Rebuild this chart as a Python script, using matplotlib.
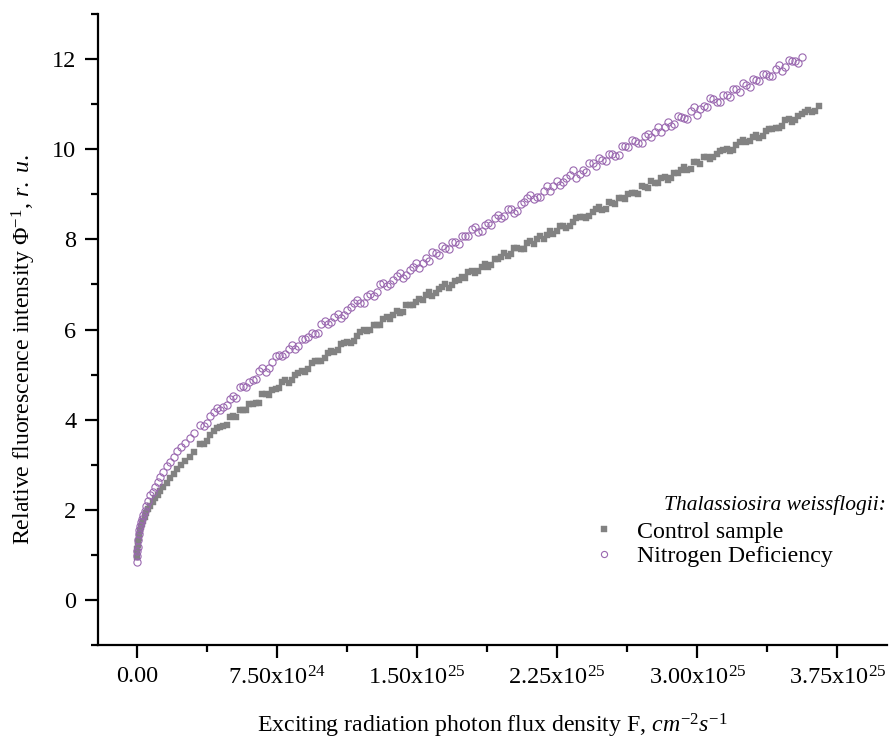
import matplotlib
matplotlib.use("Agg")
import matplotlib.pyplot as plt
from matplotlib.ticker import MultipleLocator

plt.rcParams['font.family'] = ['Liberation Serif', 'DejaVu Serif']
plt.rcParams['mathtext.fontset'] = 'custom'
plt.rcParams['mathtext.rm'] = 'Liberation Serif'
plt.rcParams['mathtext.it'] = 'Liberation Serif:italic'

# photon flux density, in units of 1e24 cm^-2 s^-1
flux_nd = [0.00, 0.01, 0.02, 0.04, 0.06, 0.09, 0.12, 0.16, 0.21, 0.27, 0.34, 0.42, 0.51, 0.61,
           0.72, 0.84, 0.97, 1.11, 1.26, 1.42, 1.59, 1.77, 1.96, 2.16, 2.37, 2.59, 2.82, 3.06,
           3.40, 3.75, 4.10, 4.45, 4.80, 5.15, 5.50, 5.85, 6.20, 6.55, 6.90, 7.25, 7.60, 7.95,
           8.30, 8.65, 9.00, 9.35, 9.70, 10.05, 10.40, 10.75, 11.10, 11.45, 11.80, 12.15, 12.50,
           12.85, 13.20, 13.55, 13.90, 14.25, 14.60, 14.95, 15.30, 15.65, 16.00, 16.35, 16.70,
           17.05, 17.40, 17.75, 18.10, 18.45, 18.80, 19.15, 19.50, 19.85, 20.20, 20.55, 20.90,
           21.25, 21.60, 21.95, 22.30, 22.65, 23.00, 23.35, 23.70, 24.05, 24.40, 24.75, 25.10,
           25.45, 25.80, 26.15, 26.50, 26.85, 27.20, 27.55, 27.90, 28.25, 28.60, 28.95, 29.30,
           29.65, 30.00, 30.35, 30.70, 31.05, 31.40, 31.75, 32.10, 32.45, 32.80, 33.15, 33.50,
           33.85, 34.20, 34.55, 34.90, 35.25, 35.60]
fluo_nd = [0.83, 0.98, 1.08, 1.18, 1.32, 1.47, 1.55, 1.63, 1.72, 1.80, 1.88, 1.98, 2.08, 2.20,
           2.33, 2.40, 2.50, 2.62, 2.73, 2.84, 2.98, 3.07, 3.17, 3.31, 3.39, 3.48, 3.60, 3.70,
           3.89, 3.93, 4.18, 4.22, 4.32, 4.53, 4.72, 4.72, 4.88, 5.07, 5.05, 5.28, 5.43, 5.45,
           5.66, 5.63, 5.80, 5.93, 5.92, 6.19, 6.16, 6.34, 6.33, 6.49, 6.65, 6.59, 6.79,
           6.84, 7.03, 7.00, 7.18, 7.14, 7.33, 7.48, 7.47, 7.52, 7.70, 7.85, 7.78,
           7.94, 8.07, 8.07, 8.28, 8.19, 8.37, 8.48, 8.47, 8.67, 8.59, 8.78, 8.91,
           8.90, 8.95, 9.18, 9.18, 9.20, 9.37, 9.53, 9.46, 9.49, 9.69, 9.80, 9.75,
           9.89, 9.87, 10.08, 10.21, 10.15, 10.29, 10.27, 10.49, 10.49, 10.51, 10.73, 10.69,
           10.85, 10.77, 10.96, 11.13, 11.04, 11.21, 11.15, 11.33, 11.47, 11.39, 11.54, 11.67,
           11.63, 11.78, 11.73, 11.99, 11.96, 12.04]

flux_ctrl = [0.00, 0.01, 0.02, 0.04, 0.06, 0.09, 0.12, 0.16, 0.21, 0.27, 0.34, 0.42, 0.51, 0.61,
             0.72, 0.84, 0.97, 1.11, 1.26, 1.42, 1.59, 1.77, 1.96, 2.16, 2.37, 2.59, 2.82, 3.06,
             3.40, 3.75, 4.10, 4.45, 4.80, 5.15, 5.50, 5.85, 6.20, 6.55, 6.90, 7.25, 7.60, 7.95,
             8.30, 8.65, 9.00, 9.35, 9.70, 10.05, 10.40, 10.75, 11.10, 11.45, 11.80, 12.15, 12.50,
             12.85, 13.20, 13.55, 13.90, 14.25, 14.60, 14.95, 15.30, 15.65, 16.00, 16.35, 16.70,
             17.05, 17.40, 17.75, 18.10, 18.45, 18.80, 19.15, 19.50, 19.85, 20.20, 20.55, 20.90,
             21.25, 21.60, 21.95, 22.30, 22.65, 23.00, 23.35, 23.70, 24.05, 24.40, 24.75, 25.10,
             25.45, 25.80, 26.15, 26.50, 26.85, 27.20, 27.55, 27.90, 28.25, 28.60, 28.95, 29.30,
             29.65, 30.00, 30.35, 30.70, 31.05, 31.40, 31.75, 32.10, 32.45, 32.80, 33.15, 33.50,
             33.85, 34.20, 34.55, 34.90, 35.25, 35.60, 35.95, 36.30, 36.50]
fluo_ctrl = [0.95, 1.05, 1.12, 1.22, 1.30, 1.38, 1.45, 1.53, 1.61, 1.68, 1.76, 1.85, 1.93, 2.01,
             2.09, 2.17, 2.25, 2.33, 2.42, 2.51, 2.60, 2.70, 2.80, 2.90, 3.00, 3.08, 3.18, 3.28,
             3.47, 3.53, 3.75, 3.83, 3.89, 4.07, 4.21, 4.22, 4.35, 4.38, 4.57, 4.65, 4.71, 4.89,
             4.88, 5.04, 5.06, 5.25, 5.31, 5.36, 5.53, 5.55, 5.70, 5.69, 5.86, 6.00, 5.99,
             6.10, 6.24, 6.23, 6.42, 6.39, 6.55, 6.62, 6.65, 6.84, 6.81, 6.95, 6.92,
             7.07, 7.17, 7.28, 7.25, 7.38, 7.39, 7.57, 7.60, 7.63, 7.82, 7.79, 7.91,
             7.89, 8.07, 8.09, 8.13, 8.30, 8.25, 8.39, 8.50, 8.47, 8.61, 8.71, 8.67,
             8.80, 8.93, 8.90, 9.04, 9.01, 9.16, 9.29, 9.26, 9.39, 9.37, 9.48, 9.61,
             9.56, 9.71, 9.82, 9.78, 9.89, 9.99, 9.97, 10.10, 10.21, 10.19, 10.31, 10.29,
             10.46, 10.48, 10.51, 10.68, 10.65, 10.78, 10.88, 10.86, 10.95]

# readings taken between the points above (the band is dense in the original)
flux_mid = [3.57, 3.92, 4.27, 4.62, 4.97, 5.32, 5.67, 6.02, 6.37, 6.72, 7.07, 7.42, 7.77, 8.12,
            8.47, 8.82, 9.17, 9.52, 9.87, 10.22, 10.57, 10.92, 11.27, 11.62, 11.97, 12.32, 12.67,
            13.02, 13.37, 13.72, 14.07, 14.42, 14.77, 15.12, 15.47, 15.82, 16.17, 16.52, 16.87,
            17.22, 17.57, 17.92, 18.27, 18.62, 18.97, 19.32, 19.67, 20.02, 20.37, 20.72, 21.07,
            21.42, 21.77, 22.12, 22.47, 22.82, 23.17, 23.52, 23.87, 24.22, 24.57, 24.92, 25.27,
            25.62, 25.97, 26.32, 26.67, 27.02, 27.37, 27.72, 28.07, 28.42, 28.77, 29.12, 29.47,
            29.82, 30.17, 30.52, 30.87, 31.22, 31.57, 31.92, 32.27, 32.62, 32.97, 33.32, 33.67,
            34.02, 34.37, 34.72, 35.07, 35.42]
fluo_nd_mid = [3.85, 4.07, 4.25, 4.27, 4.45, 4.47, 4.74, 4.84, 4.91, 5.14, 5.14, 5.42, 5.41, 5.57,
               5.56, 5.80, 5.84, 5.90, 6.13, 6.13, 6.28, 6.25, 6.44, 6.58, 6.58, 6.75, 6.74,
               7.01, 6.97, 7.09, 7.25, 7.22, 7.39, 7.37, 7.59, 7.71, 7.66, 7.81, 7.94,
               7.90, 8.08, 8.23, 8.16, 8.31, 8.31, 8.55, 8.53, 8.68, 8.63, 8.84, 8.99,
               8.94, 9.07, 9.07, 9.29, 9.28, 9.43, 9.37, 9.55, 9.69, 9.63, 9.76, 9.90,
               9.86, 10.08, 10.04, 10.18, 10.13, 10.35, 10.39, 10.38, 10.61, 10.56, 10.72, 10.67,
               10.93, 10.90, 10.93, 11.12, 11.05, 11.21, 11.33, 11.28, 11.42, 11.57, 11.52, 11.68,
               11.62, 11.87, 11.82, 11.96, 11.92]
flux_ctrl_tail = [35.77, 36.12]
fluo_ctrl_mid = [3.47, 3.66, 3.82, 3.86, 4.06, 4.05, 4.21, 4.34, 4.37, 4.56, 4.54, 4.68, 4.83, 4.81,
                 5.00, 5.08, 5.13, 5.31, 5.30, 5.48, 5.50, 5.67, 5.73, 5.75, 5.95, 5.96, 6.09,
                 6.09, 6.27, 6.33, 6.36, 6.55, 6.54, 6.67, 6.77, 6.75, 6.90, 7.01, 6.98,
                 7.10, 7.14, 7.30, 7.30, 7.46, 7.43, 7.57, 7.70, 7.68, 7.82, 7.79, 7.97,
                 8.00, 8.02, 8.19, 8.18, 8.30, 8.29, 8.48, 8.50, 8.51, 8.67, 8.66, 8.82,
                 8.78, 8.92, 9.01, 9.02, 9.18, 9.14, 9.26, 9.36, 9.32, 9.48, 9.54, 9.55,
                 9.71, 9.67, 9.82, 9.83, 9.96, 10.00, 9.99, 10.17, 10.16, 10.27, 10.25, 10.41,
                 10.45, 10.47, 10.64, 10.61, 10.73, 10.83, 10.82]

x_tick_vals = [0.0, 7.5e24, 1.5e25, 2.25e25, 3.0e25, 3.75e25]
x_tick_labels = ['0.00', '7.50x10$^{24}$', '1.50x10$^{25}$', '2.25x10$^{25}$',
                 '3.00x10$^{25}$', '3.75x10$^{25}$']
series_names = ['Control sample', 'Nitrogen Deficiency']
legend_title = 'Thalassiosira weissflogii:'

ctrl_x = [f * 1e24 for f in flux_ctrl + flux_mid + flux_ctrl_tail]
ctrl_y = fluo_ctrl + fluo_ctrl_mid
nd_x = [f * 1e24 for f in flux_nd + flux_mid]
nd_y = fluo_nd + fluo_nd_mid

fig = plt.figure(figsize=(8.9, 7.43), dpi=100)
ax = fig.add_axes([0.110, 0.132, 0.887, 0.849])

ax.plot(ctrl_x, ctrl_y, 's', ms=4.8, color='#828282', mec='#828282', mew=0.3,
        label=series_names[0])
ax.plot(nd_x, nd_y, 'o', ms=5.2, mfc='none', mec='#9a68b0', mew=0.8,
        label=series_names[1])

ax.set_xlim(-2.09e24, 4.018e25)
ax.set_ylim(-1, 13)
ax.set_xticks(x_tick_vals)
ax.set_xticklabels(x_tick_labels)
ax.xaxis.set_minor_locator(MultipleLocator(3.75e24))
ax.yaxis.set_minor_locator(MultipleLocator(1))
ax.set_yticks([0, 2, 4, 6, 8, 10, 12])

for side in ['top', 'right']:
    ax.spines[side].set_visible(False)
for side in ['left', 'bottom']:
    ax.spines[side].set_linewidth(1.6)

ax.tick_params(which='major', direction='out', length=9.5, width=1.6, labelsize=17.5, pad=6)
ax.tick_params(which='minor', direction='out', length=5, width=1.6)

ax.set_xlabel('Exciting radiation photon flux density F, $cm^{-2}s^{-1}$', fontsize=17.2)
ax.set_ylabel('Relative fluorescence intensity \u03a6$^{-1}$, $r.\\ u.$', fontsize=17.2)
ax.xaxis.set_label_coords(0.5, -0.106)
ax.yaxis.set_label_coords(-0.076, 0.469)

leg = ax.legend(loc='center left', bbox_to_anchor=(594 / 890, 1 - 544 / 743),
                bbox_transform=fig.transFigure, frameon=False, fontsize=17.2,
                handlelength=0.8, handletextpad=1.0, borderpad=0, labelspacing=0.12,
                markerscale=0.85, borderaxespad=0)
fig.text(886 / 890, 1 - 505 / 743, legend_title, fontsize=15.5, style='italic',
         ha='right', va='center')

plt.savefig('out.png', dpi=100)
plt.close()
